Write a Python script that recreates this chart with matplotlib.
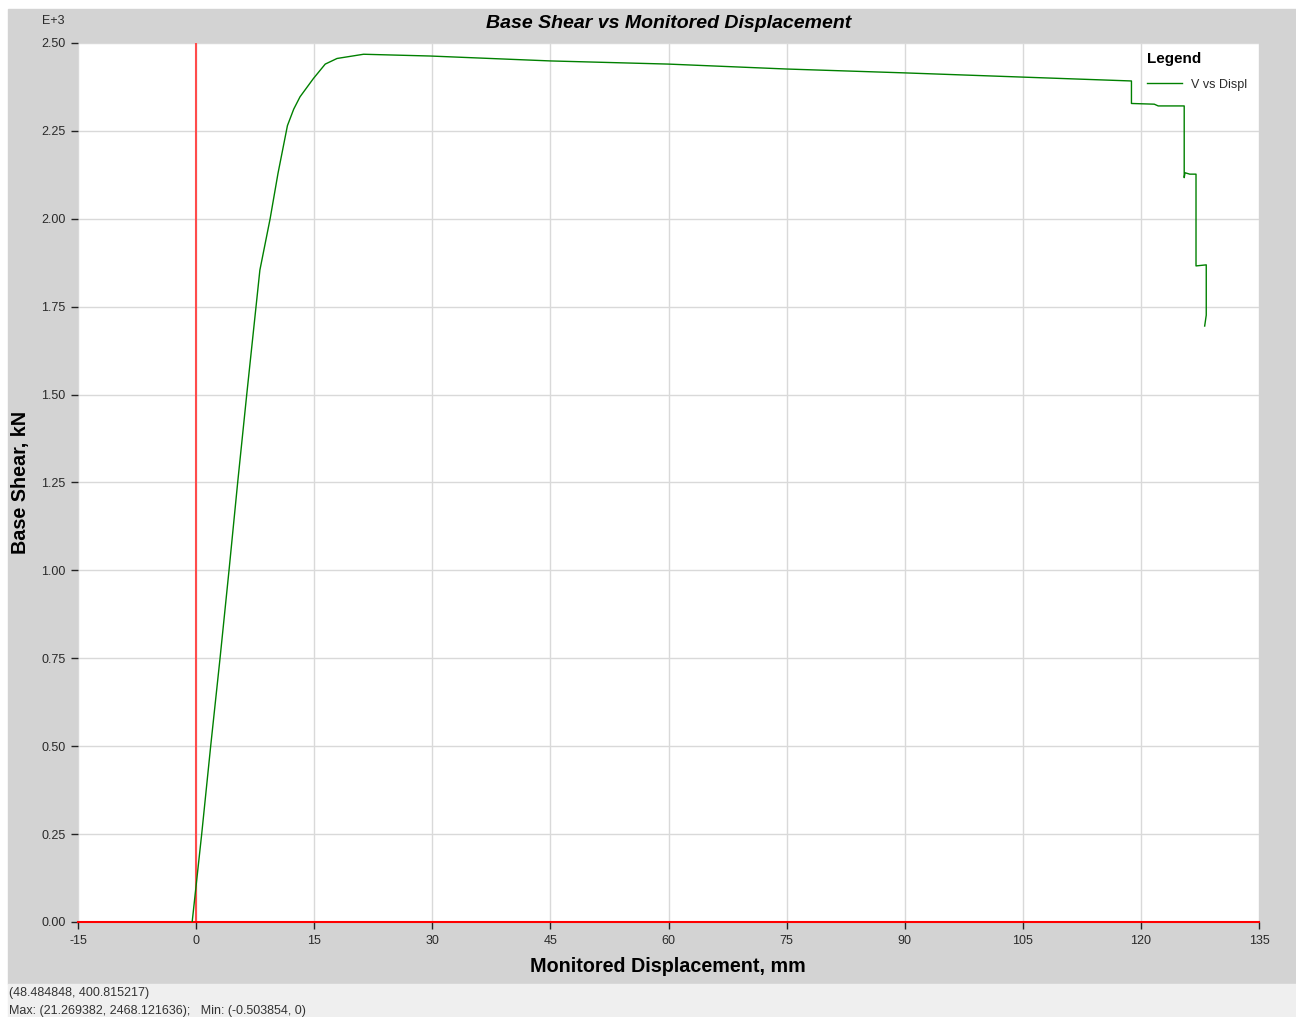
import matplotlib
matplotlib.use('Agg')
import matplotlib.pyplot as plt
import matplotlib.ticker as ticker
from matplotlib.patches import Rectangle

plt.rcParams['font.family'] = ['Liberation Sans', 'DejaVu Sans']
plt.rcParams['axes.unicode_minus'] = False

# pushover curve (mm, kN)
disp = [-0.50, 0.71, 1.85, 3.04, 4.18, 5.28, 6.43, 7.61, 8.10, 9.40, 10.40,
        11.60, 12.40, 13.20, 14.90, 16.40, 17.90, 21.27, 29.70, 45.0, 60.0,
        75.0, 90.0, 105.0, 118.8, 118.8, 121.7, 122.2, 125.5, 125.5, 125.6,
        126.2, 127.0, 127.0, 128.3, 128.3, 128.1]
shear = [0, 250, 500, 750, 1000, 1250, 1500, 1750, 1854, 2000, 2129,
         2265, 2312, 2347, 2399, 2440, 2456, 2468, 2463, 2449, 2440,
         2426, 2415, 2403, 2392, 2328, 2326, 2321, 2321, 2117, 2131,
         2127, 2127, 1866, 1869, 1726, 1695]

xticks = [-15, 0, 15, 30, 45, 60, 75, 90, 105, 120, 135]
yticks = [0, 250, 500, 750, 1000, 1250, 1500, 1750, 2000, 2250, 2500]

W, H = 1296, 1017
fig = plt.figure(figsize=(W / 100, H / 100), dpi=100)
fig.patch.set_facecolor('white')

# grey panel + status bar (behind the axes)
fig.patches.append(Rectangle((8 / W, 1 - 984 / H), 1 - 8 / W, (984 - 9) / H,
                             transform=fig.transFigure, color='#d3d3d3', zorder=-10))
fig.patches.append(Rectangle((8 / W, 0), 1 - 8 / W, (1017 - 984) / H,
                             transform=fig.transFigure, color='#efefef', zorder=-10))

ax = fig.add_axes([78 / W, 1 - 922 / H, (1259 - 78) / W, (922 - 43) / H])
ax.set_facecolor('white')

ax.set_xlim(-15, 135)
ax.set_ylim(0, 2500)
ax.set_xticks(xticks)
ax.set_yticks(yticks)
ax.yaxis.set_major_formatter(ticker.FuncFormatter(lambda v, p: '%.2f' % (v / 1000)))
ax.grid(True, color='#d9d9d9', lw=1)
ax.set_axisbelow(True)
for s in ax.spines.values():
    s.set_visible(False)
ax.tick_params(direction='out', length=5, width=1, color='#222222',
               labelsize=9, labelcolor='#2a2a2a', pad=4)

ax.axvline(0, color='#ff4c4c', lw=1.5, zorder=2)
ax.axhline(0, color='#ff0000', lw=1.5, zorder=2, clip_on=False)

line, = ax.plot(disp, shear, color='#008000', lw=1, label='V vs Displ', zorder=3)

fig.text(669 / W, 1 - 23 / H, 'Base Shear vs Monitored Displacement',
         ha='center', va='center', fontsize=14, fontweight='bold', style='italic')
fig.text(668 / W, 1 - 966 / H, 'Monitored Displacement, mm',
         ha='center', va='center', fontsize=14.2, fontweight='bold')
fig.text(21 / W, 1 - 482 / H, 'Base Shear, kN', rotation=90,
         ha='center', va='center', fontsize=14.2, fontweight='bold')
fig.text(53 / W, 1 - 21 / H, 'E+3', ha='center', va='center', fontsize=9,
         color='#2a2a2a')

leg = ax.legend(handles=[line], loc='upper left', frameon=False,
                bbox_to_anchor=(1141 / W, 1 - 46 / H),
                bbox_transform=fig.transFigure, title='Legend',
                title_fontproperties={'weight': 'bold', 'size': 11},
                fontsize=9, handlelength=2.8, handletextpad=0.7,
                labelspacing=1.0, borderpad=0, alignment='left')
for t in leg.get_texts():
    t.set_color('#2a2a2a')

fig.text(9 / W, 1 - 993 / H, '(48.484848, 400.815217)', ha='left', va='center',
         fontsize=9, color='#333333')
fig.text(9 / W, 1 - 1011 / H,
         'Max: (21.269382, 2468.121636);   Min: (-0.503854, 0)',
         ha='left', va='center', fontsize=9, color='#333333')

fig.savefig('out.png', dpi=100)
